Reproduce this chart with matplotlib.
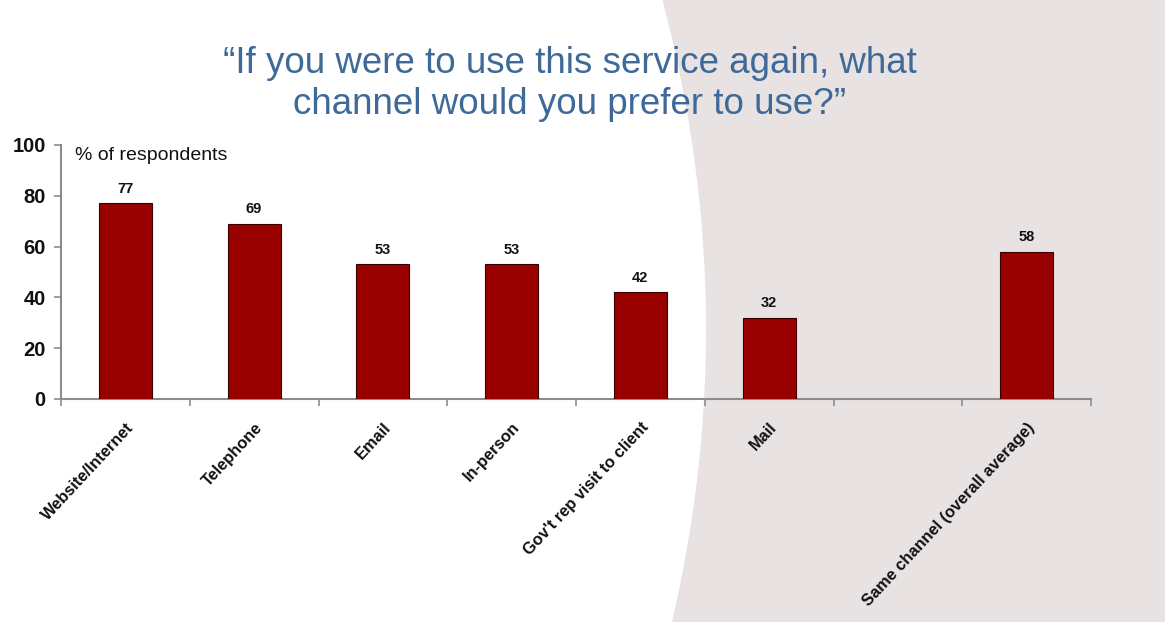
import numpy as np
import matplotlib.pyplot as plt
from matplotlib.patches import Polygon

# Survey results: preferred channel for the next use of the service
categories = ["Website/Internet", "Telephone", "Email", "In-person",
              "Gov't rep visit to client", "Mail", "",
              "Same channel (overall average)"]
values = [77, 69, 53, 53, 42, 32, None, 58]
y_ticks = [0, 20, 40, 60, 80, 100]

title_text = "\u201cIf you were to use this service again, what\nchannel would you prefer to use?\u201d"
unit_text = "% of respondents"

plt.rcParams['font.family'] = ['Liberation Sans', 'DejaVu Sans']

W, H = 1165, 622
fig = plt.figure(figsize=(W / 100, H / 100), dpi=100)
fig.patch.set_facecolor('white')

# Light grey panel on the right with a curved left edge
ys = np.linspace(0, H, 200)
xs = 706 - 41 / 320 ** 2 * (ys - 330) ** 2
pts = [(x / W, 1 - y / H) for x, y in zip(xs, ys)]
pts += [(1, 0), (1, 1)]
fig.patches.append(Polygon(pts, closed=True, transform=fig.transFigure,
                           facecolor='#e8e3e2', edgecolor='none', zorder=0))

ax = fig.add_axes([61 / W, 1 - 399 / H, (1091 - 61) / W, (399 - 145) / H])
ax.set_zorder(2)
ax.set_facecolor('none')

x = np.arange(len(categories))
for xi, v in zip(x, values):
    if v is None:
        continue
    ax.bar(xi, v, width=0.41, color='#990000', edgecolor='#3a0000',
           linewidth=0.8, zorder=3)
    ax.text(xi, v + 3, f"{v}", ha='center', va='bottom', fontsize=10.5,
            fontweight='bold', color='#111111')

ax.set_xlim(-0.5, len(categories) - 0.5)
ax.set_ylim(0, 100)
ax.set_yticks(y_ticks)
ax.set_yticklabels([str(t) for t in y_ticks], fontsize=14.5, fontweight='bold',
                   color='#111111')
ax.set_xticks(x)
ax.set_xticklabels(categories, rotation=47, ha='right', rotation_mode='anchor',
                   fontsize=11.8, fontweight='bold', color='#111111')
ax.set_xticks(np.arange(len(categories) + 1) - 0.5, minor=True)
ax.tick_params(axis='x', which='major', length=0, pad=15)
ax.tick_params(axis='x', which='minor', length=5, color='#8c8c8c', width=1.2)
ax.tick_params(axis='y', length=5, color='#8c8c8c', width=1.2, pad=6)

for side in ('top', 'right'):
    ax.spines[side].set_visible(False)
for side in ('left', 'bottom'):
    ax.spines[side].set_color('#8c8c8c')
    ax.spines[side].set_linewidth(1.5)

ax.text(0.014, 0.96, unit_text, transform=ax.transAxes, fontsize=14,
        color='#111111', va='center', ha='left')

fig.text(570 / W, 1 - 84 / H, title_text, ha='center', va='center',
         fontsize=26.5, color='#3e6a99', linespacing=1.22)

fig.savefig('out.png', dpi=100)
